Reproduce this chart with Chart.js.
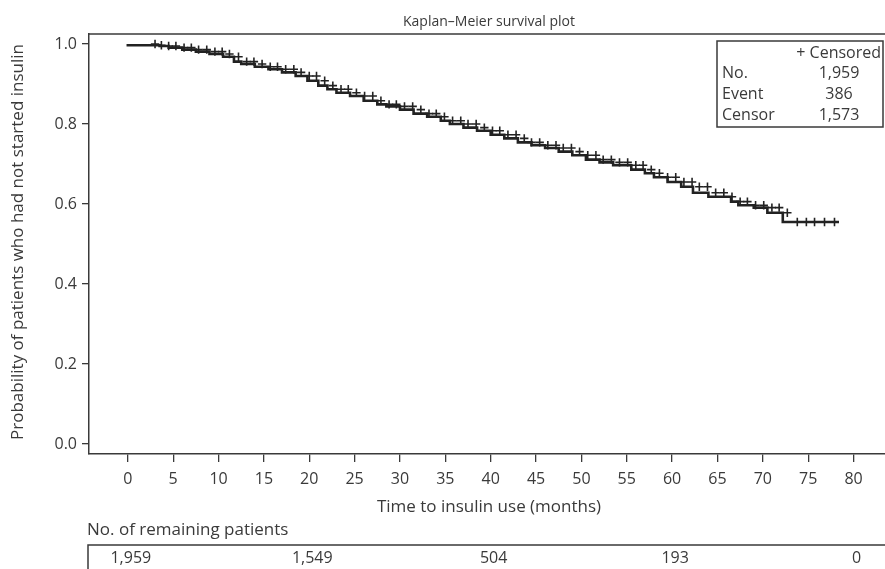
<!DOCTYPE html>
<html>
<head>
<meta charset="utf-8">
<script src="https://cdn.jsdelivr.net/npm/chart.js@4.4.0/dist/chart.umd.min.js"></script>
<style>
  html, body { margin: 0; padding: 0; background: #fff; overflow: hidden; }
  #km { display: block; }
</style>
</head>
<body>
<canvas id="km" width="892" height="569"></canvas>
<script>
// Kaplan-Meier curve: time of each drop (months) and survival after it
const eventTimes = [0, 3.5, 4.5, 6, 7.5, 9, 10.5, 11.7, 12.5, 14, 15.5, 17, 18.5, 19.8, 21, 22, 23, 24.5, 26, 27.5,
  28.5, 30, 31.5, 33, 34.5, 35.5, 37, 38.5, 40, 41.5, 43, 44.5, 46, 47.5, 49, 50.5, 52, 53.5, 55.5, 57,
  58, 59.5, 61, 62.3, 64, 66.5, 67.3, 69, 70.5, 72.2, 73.5, 78.4];
const survival = [1.0, 0.997, 0.995, 0.991, 0.986, 0.981, 0.975, 0.968, 0.956, 0.95, 0.943, 0.937, 0.929, 0.92, 0.908, 0.896, 0.887, 0.878, 0.87, 0.858,
  0.849, 0.844, 0.836, 0.826, 0.818, 0.808, 0.8, 0.791, 0.783, 0.773, 0.764, 0.754, 0.747, 0.74, 0.731, 0.722, 0.711, 0.704, 0.697, 0.686,
  0.677, 0.667, 0.655, 0.643, 0.628, 0.618, 0.606, 0.597, 0.591, 0.578, 0.555, 0.555];

// censoring times (months)
const censorTimes = [3, 3.7, 4.5, 5.3, 6.2, 7, 7.8, 8.7, 9.6, 10.4, 11.2, 12.2, 13.1, 13.9, 14.8, 15.7, 16.5, 17.4, 18.3, 19.1,
  20, 20.8, 21.7, 22.6, 23.5, 24.3, 25.2, 26.1, 27, 27.9, 28.8, 29.6, 30.5, 31.4, 32.3, 33.2, 34, 34.9, 35.8, 36.7,
  37.5, 38.4, 39.3, 40.2, 41, 41.9, 42.8, 43.7, 44.5, 45.4, 46.3, 47.2, 48, 48.9, 49.8, 50.7, 51.6, 52.4, 53.3, 54.2,
  55.1, 56, 56.8, 57.7, 58.6, 59.5, 60.4, 61.3, 62.2, 63, 63.9, 64.8, 65.7, 66.6, 67.5, 68.3, 69.2, 70.1, 71, 71.8,
  72.7, 73.8, 74.8, 75.7, 76.8, 77.9];

const xTicks = [0, 5, 10, 15, 20, 25, 30, 35, 40, 45, 50, 55, 60, 65, 70, 75, 80];
const yTicks = [0, 0.2, 0.4, 0.6, 0.8, 1.0];

// number at risk table
const riskTimes = [0, 20, 40, 60, 80];
const riskCounts = ["1,959", "1,549", "504", "193", "0"];

// summary box
const summaryLabels = ["No.", "Event", "Censor"];
const summaryValues = ["1,959", "386", "1,573"];

const INK = "#3a3a3a";
const FONT = "'Open Sans', 'Noto Sans', sans-serif";

function survivalAt(t) {
  let s = survival[0];
  for (let i = 0; i < eventTimes.length; i++) {
    if (eventTimes[i] <= t) s = survival[i];
  }
  return s;
}

const extras = {
  id: "extras",
  afterDraw(chart) {
    const ctx = chart.ctx;
    const area = chart.chartArea;
    const xs = chart.scales.x;
    ctx.save();
    ctx.fillStyle = INK;
    ctx.strokeStyle = INK;

    // top frame line
    ctx.lineWidth = 1.5;
    ctx.beginPath();
    ctx.moveTo(area.left, area.top);
    ctx.lineTo(area.right, area.top);
    ctx.stroke();

    // title
    ctx.font = "14px " + FONT;
    ctx.textAlign = "center";
    ctx.textBaseline = "middle";
    ctx.fillText("Kaplan\u2013Meier survival plot", 489, 22);

    // axis titles
    ctx.font = "17px " + FONT;
    ctx.fillText("Time to insulin use (months)", 489, 507);
    ctx.save();
    ctx.translate(18, 242);
    ctx.rotate(-Math.PI / 2);
    ctx.fillText("Probability of patients who had not started insulin", 0, 0);
    ctx.restore();

    // risk table
    ctx.textAlign = "left";
    ctx.fillText("No. of remaining patients", 87, 530);
    ctx.lineWidth = 1.5;
    ctx.strokeRect(88, 545, 900, 40);
    ctx.font = "16px " + FONT;
    ctx.textAlign = "center";
    riskTimes.forEach((t, i) => {
      ctx.fillText(riskCounts[i], xs.getPixelForValue(t) + 3, 558);
    });

    // summary box
    ctx.lineWidth = 1.5;
    ctx.strokeRect(717, 41, 166, 86);
    ctx.font = "16px " + FONT;
    ctx.textAlign = "right";
    ctx.fillText("+ Censored", 881, 53);
    summaryLabels.forEach((lab, i) => {
      const y = 73 + i * 21;
      ctx.textAlign = "left";
      ctx.fillText(lab, 722, y);
      ctx.textAlign = "center";
      ctx.fillText(summaryValues[i], 839, y);
    });
    ctx.restore();
  }
};

new Chart(document.getElementById("km").getContext("2d"), {
  type: "line",
  data: {
    datasets: [
      {
        label: "KM",
        data: eventTimes.map((t, i) => ({ x: t, y: survival[i] })),
        stepped: "after",
        borderColor: "#222",
        borderWidth: 2.6,
        pointRadius: 0,
        fill: false,
      },
      {
        label: "Censored",
        type: "scatter",
        data: censorTimes.map((t) => ({ x: t, y: survivalAt(t) })),
        pointStyle: "cross",
        pointRadius: 4.2,
        borderColor: "#222",
        borderWidth: 1.6,
        showLine: false,
      },
    ],
  },
  options: {
    responsive: false,
    animation: false,
    events: [],
    layout: { padding: { top: 34, left: 0, right: 2, bottom: 0 } },
    plugins: {
      legend: { display: false },
      tooltip: { enabled: false },
    },
    scales: {
      x: {
        type: "linear",
        min: -4.28,
        max: 83.6,
        afterFit: (s) => { s.height = 115; },
        afterBuildTicks: (s) => { s.ticks = xTicks.map((v) => ({ value: v })); },
        grid: { drawOnChartArea: false, drawTicks: true, tickLength: 8, color: INK, lineWidth: 1.3 },
        border: { display: true, color: INK, width: 1.5 },
        ticks: { color: INK, font: { family: FONT, size: 16 }, padding: 8, maxRotation: 0 },
      },
      y: {
        type: "linear",
        min: -0.025,
        max: 1.025,
        afterFit: (s) => { s.width = 89; },
        afterBuildTicks: (s) => { s.ticks = yTicks.map((v) => ({ value: v })); },
        grid: { drawOnChartArea: false, drawTicks: true, tickLength: 7, color: INK, lineWidth: 1.3 },
        border: { display: true, color: INK, width: 1.5 },
        ticks: {
          color: INK,
          font: { family: FONT, size: 16 },
          padding: 5,
          callback: (v) => v.toFixed(1),
        },
      },
    },
  },
  plugins: [extras],
});
</script>
</body>
</html>
